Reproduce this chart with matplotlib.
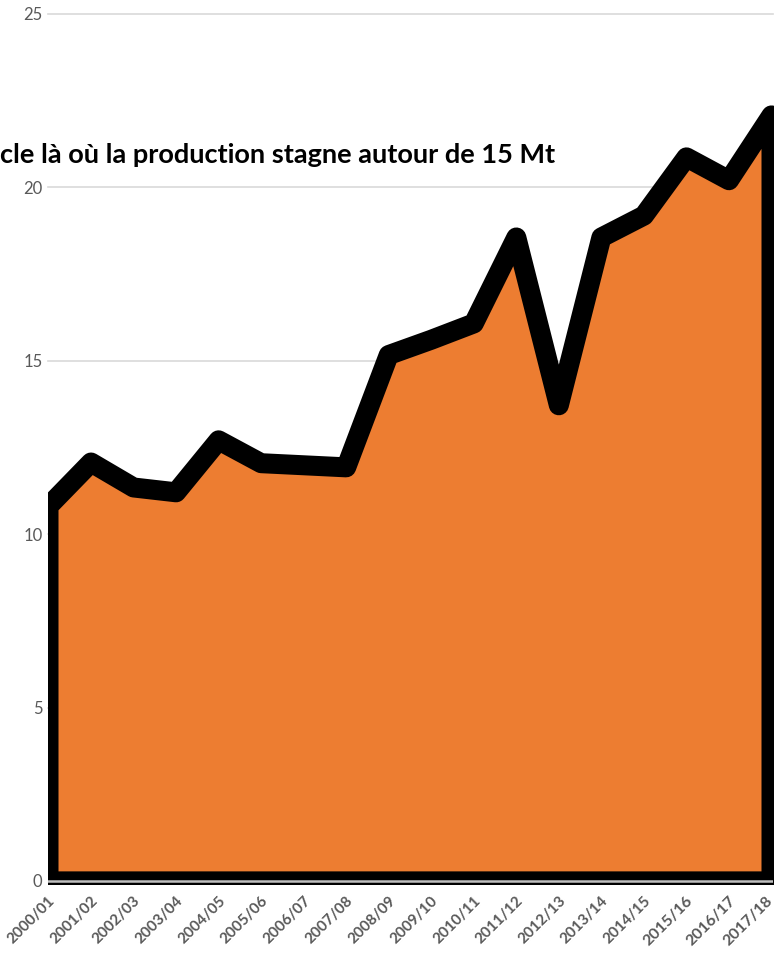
import matplotlib.pyplot as plt
import matplotlib.transforms as mtransforms

# Campagnes et production (Mt)
campagnes = ["2000/01", "2001/02", "2002/03", "2003/04", "2004/05", "2005/06",
             "2006/07", "2007/08", "2008/09", "2009/10", "2010/11", "2011/12",
             "2012/13", "2013/14", "2014/15", "2015/16", "2016/17", "2017/18"]
production = [10.82, 12.08, 11.36, 11.22, 12.72, 12.06, 12.0, 11.94, 15.18,
              15.62, 16.09, 18.57, 13.73, 18.57, 19.2, 20.88, 20.22, 22.09]
y_ticks = [0, 5, 10, 15, 20, 25]
titre = "cle là où la production stagne autour de 15 Mt"

plt.rcParams['font.family'] = ['Lato', 'DejaVu Sans']

W, H = 777, 955
fig = plt.figure(figsize=(W / 100, H / 100), dpi=100)
ax = fig.add_axes([48 / W, (H - 884) / H, (773 - 48) / W, (884 - 14) / H])

x = list(range(len(campagnes)))
ax.fill_between(x, production, 0, facecolor="#ED7D31", edgecolor="black",
                linewidth=14.4, joinstyle="round", zorder=2)

ax.set_xlim(0, len(campagnes) - 1 + 0.047)
ax.set_ylim(-0.09, 25)

# Grille horizontale
ax.set_yticks(y_ticks)
for t in y_ticks[1:]:
    ax.axhline(t, color="#d9d9d9", linewidth=1.2, zorder=1, clip_on=False)
ax.axhline(0, color="#bfbfbf", linewidth=1.8, zorder=3)

for s in ax.spines.values():
    s.set_visible(False)

ax.tick_params(axis="y", length=0, pad=4, labelsize=12, labelcolor="#595959")
ax.tick_params(axis="x", length=0, pad=7)
ax.set_xticks(x)
ax.set_xticklabels(campagnes, rotation=45, ha="right", rotation_mode="anchor",
                   fontweight="bold", color="#595959", fontsize=11)
labels = ax.get_xticklabels()
for lab in labels[-3:]:
    lab.set_fontsize(11.5)
# le dernier libellé est un peu décalé pour rester dans l'image
decal = mtransforms.ScaledTranslation(-5 / 100, 0, fig.dpi_scale_trans)
labels[-1].set_transform(labels[-1].get_transform() + decal)

fig.text(555 / W, 1 - 163 / H, titre, ha="right", va="baseline",
         fontsize=19.5, fontweight="bold", color="black")

fig.savefig("out.png", dpi=100)
